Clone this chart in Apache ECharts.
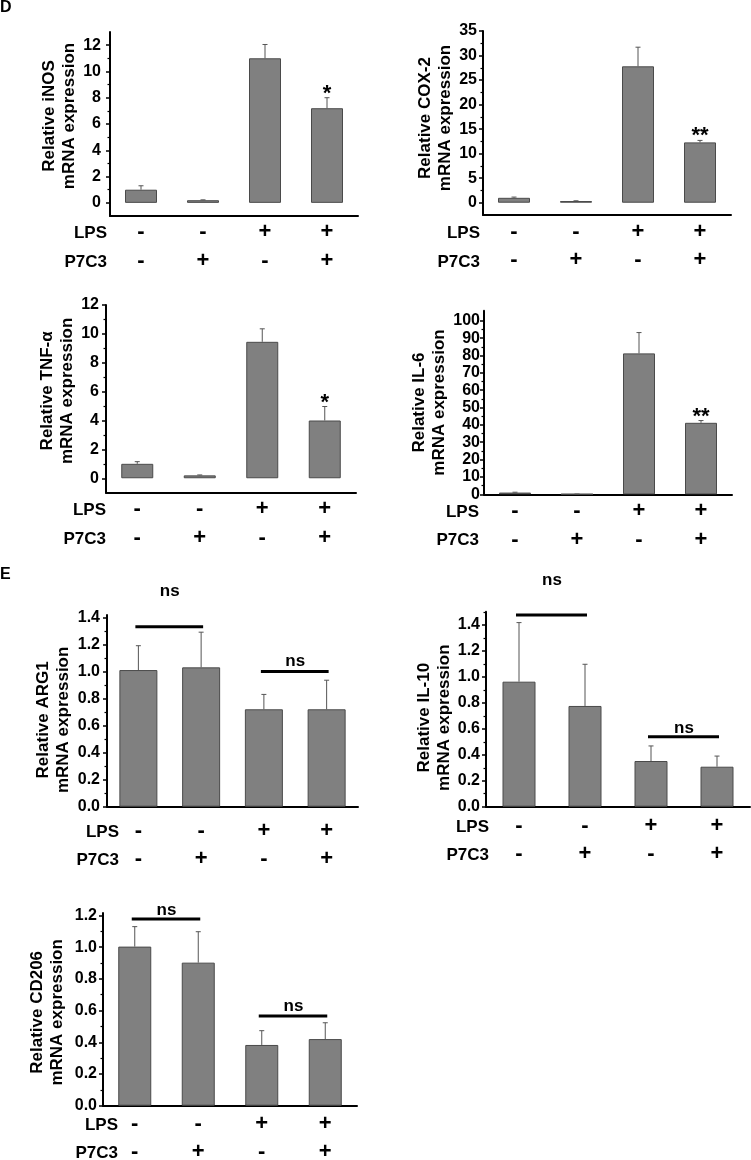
<!DOCTYPE html>
<html><head><meta charset="utf-8">
<script src="https://cdn.jsdelivr.net/npm/echarts@6/dist/echarts.min.js"></script>
<style>html,body{margin:0;padding:0;background:#fff}#c{width:751px;height:1160px}</style>
</head><body><div id="c"></div>
<script>
// ---------- data ----------
const groups = ['Control', 'P7C3', 'LPS', 'LPS+P7C3'];
const lpsSigns = ['-', '-', '+', '+'];
const p7c3Signs = ['-', '+', '-', '+'];

const inosMean = [1.0, 0.2, 11.0, 7.2];
const inosErr = [0.3, 0.03, 1.05, 0.8];
const inosSig = ['', '', '', '*'];

const cox2Mean = [1.0, 0.35, 27.8, 12.3];
const cox2Err = [0.15, 0.05, 3.9, 0.4];
const cox2Sig = ['', '', '', '**'];

const tnfMean = [1.0, 0.2, 9.45, 4.0];
const tnfErr = [0.15, 0.03, 0.9, 0.97];
const tnfSig = ['', '', '', '*'];

const il6Mean = [1.0, 0.1, 81.2, 41.2];
const il6Err = [0.2, 0.05, 12.0, 1.3];
const il6Sig = ['', '', '', '**'];

const arg1Mean = [1.01, 1.03, 0.72, 0.72];
const arg1Err = [0.18, 0.26, 0.11, 0.215];
const arg1Ns = [[0, 1, 1.33, 'ns'], [2, 3, 1.0, 'ns']];

const il10Mean = [0.963, 0.776, 0.352, 0.308];
const il10Err = [0.455, 0.321, 0.116, 0.082];
const il10Ns = [[0, 1, 1.477, 'ns'], [2, 3, 0.539, 'ns']];

const cd206Mean = [1.003, 0.902, 0.383, 0.42];
const cd206Err = [0.126, 0.195, 0.09, 0.103];
const cd206Ns = [[0, 1, 1.177, 'ns'], [2, 3, 0.566, 'ns']];

const inosTicks = [0, 2, 4, 6, 8, 10, 12];
const inosMinor = [1, 3, 5, 7, 9, 11];
const cox2Ticks = [0, 5, 10, 15, 20, 25, 30, 35];
const cox2Minor = [2.5, 7.5, 12.5, 17.5, 22.5, 27.5, 32.5];
const tnfTicks = [0, 2, 4, 6, 8, 10, 12];
const tnfMinor = [1, 3, 5, 7, 9, 11];
const il6Ticks = [0, 10, 20, 30, 40, 50, 60, 70, 80, 90, 100];
const il6Minor = [5, 15, 25, 35, 45, 55, 65, 75, 85, 95];
const arg1Ticks = [0, 0.2, 0.4, 0.6, 0.8, 1.0, 1.2, 1.4];
const arg1Minor = [0.1, 0.3, 0.5, 0.7, 0.9, 1.1, 1.3];
const il10Ticks = [0, 0.2, 0.4, 0.6, 0.8, 1.0, 1.2, 1.4];
const il10Minor = [0.1, 0.3, 0.5, 0.7, 0.9, 1.1, 1.3, 1.5];
const cd206Ticks = [0, 0.2, 0.4, 0.6, 0.8, 1.0, 1.2];
const cd206Minor = [0.1, 0.3, 0.5, 0.7, 0.9, 1.1];

// ---------- panels (layout / style) ----------
const FONT = '"Liberation Sans", Arial, sans-serif';
const panels = [
  {name: 'Relative iNOS\nmRNA expression', mean: inosMean, err: inosErr, sig: inosSig, ticks: inosTicks, minor: inosMinor, dec: 0,
   left: 110, top: 32, width: 248, height: 184, min: -1, max: 13, nameGap: 27, nameShift: -8, yMargin: 9, xMargin: 2, barWidth: 32,
   rowX: 107, rowY: [233, 262]},
  {name: 'Relative COX-2\nmRNA expression', mean: cox2Mean, err: cox2Err, sig: cox2Sig, ticks: cox2Ticks, minor: cox2Minor, dec: 0,
   left: 483, top: 31, width: 248, height: 184, min: -2.5, max: 35, nameGap: 20, nameShift: -5, yMargin: 6, xMargin: 2.5, barWidth: 32,
   rowX: 480, rowY: [233, 262]},
  {name: 'Relative TNF-α\nmRNA expression', mean: tnfMean, err: tnfErr, sig: tnfSig, ticks: tnfTicks, minor: tnfMinor, dec: 0,
   left: 106, top: 305, width: 250, height: 187.7, min: -1, max: 12, nameGap: 23, nameShift: -8, yMargin: 7, xMargin: 2, barWidth: 32,
   rowX: 106, rowY: [510, 539]},
  {name: 'Relative IL-6\nmRNA expression', mean: il6Mean, err: il6Err, sig: il6Sig, ticks: il6Ticks, minor: il6Minor, dec: 0,
   left: 484, top: 310.7, width: 248, height: 183.6, min: 0, max: 105.8, nameGap: 31, nameShift: 0, yMargin: 4, xMargin: 2.5, barWidth: 32,
   rowX: 479, rowY: [512, 540]},
  {name: 'Relative ARG1\nmRNA expression', mean: arg1Mean, err: arg1Err, ns: arg1Ns, nsLift: [35, 10], ticks: arg1Ticks, minor: arg1Minor, dec: 1,
   left: 107, top: 615, width: 251, height: 191.7, min: 0, max: 1.417, nameGap: 34, nameShift: 9, yMargin: 7, xMargin: 9.5, barWidth: 38,
   rowX: 119, rowY: [832, 860]},
  {name: 'Relative IL-10\nmRNA expression', mean: il10Mean, err: il10Err, ns: il10Ns, nsLift: [35, 8.5], ticks: il10Ticks, minor: il10Minor, dec: 1,
   left: 486, top: 611.7, width: 264, height: 195, min: 0, max: 1.502, nameGap: 32, nameShift: 8.5, yMargin: 6, xMargin: 4.5, barWidth: 33,
   rowX: 489, rowY: [827, 855]},
  {name: 'Relative CD206\nmRNA expression', mean: cd206Mean, err: cd206Err, ns: cd206Ns, nsLift: [9, 9.5], ticks: cd206Ticks, minor: cd206Minor, dec: 1,
   left: 103, top: 913, width: 254, height: 192.7, min: 0, max: 1.215, nameGap: 36, nameShift: 3, yMargin: 6, xMargin: 3.5, barWidth: 33,
   rowX: 118, rowY: [1125, 1153]}
];

const grids = [], xAxes = [], yAxes = [], series = [], graphics = [];

function errRenderer(sig) {
  return function (params, api) {
    const k = api.value(0), m = api.value(1), e = api.value(2);
    const b = api.coord([k, m]);
    const t = api.coord([k, m + e]);
    const children = [
      {type: 'line', shape: {x1: b[0], y1: b[1], x2: t[0], y2: t[1]}, style: {stroke: '#555', lineWidth: 1}},
      {type: 'line', shape: {x1: t[0] - 2.5, y1: t[1], x2: t[0] + 2.5, y2: t[1]}, style: {stroke: '#555', lineWidth: 1}}
    ];
    if (sig && sig[k]) {
      children.push({type: 'text', x: t[0], y: t[1] + 7,
        style: {text: sig[k], fill: '#000', font: 'bold 22px ' + FONT, align: 'center', verticalAlign: 'bottom'}});
    }
    return {type: 'group', children};
  };
}
function nsRenderer(lift) {
  return function (params, api) {
    const a = api.value(0), bIdx = api.value(1), y = api.value(2);
    const p1 = api.coord([a, y]), p2 = api.coord([bIdx, y]);
    const cx = (p1[0] + p2[0]) / 2;
    return {type: 'group', children: [
      {type: 'line', shape: {x1: p1[0] - 3, y1: p1[1], x2: p2[0] + 2, y2: p2[1]}, style: {stroke: '#000', lineWidth: 3}},
      {type: 'text', x: cx, y: p1[1] - lift[params.dataIndex],
        style: {text: api.value(3), fill: '#000', font: 'bold 17px ' + FONT, align: 'center', verticalAlign: 'middle'}}
    ]};
  };
}

panels.forEach((p, i) => {
  grids.push({left: p.left, top: p.top, width: p.width, height: p.height, containLabel: false, outerBoundsMode: 'none'});
  const fmtY = v => (p.dec ? Number(v).toFixed(p.dec) : String(Math.round(v)));
  const s = p.nameShift;
  const namePad = s < 0 ? [0, 0, 0, -2 * s] : [0, 2 * s, 0, 0];
  xAxes.push({
    gridIndex: i, type: 'category', data: groups, position: 'bottom',
    axisLine: {onZero: false, lineStyle: {color: '#000', width: 2}},
    axisTick: {alignWithLabel: true, length: 4, lineStyle: {color: '#000', width: 1.5}},
    axisLabel: {margin: p.xMargin, interval: 0,
      formatter: (v, idx) => '{s|' + lpsSigns[idx] + '}\n{s|' + p7c3Signs[idx] + '}',
      rich: {s: {fontSize: 22, fontWeight: 'bold', fontFamily: FONT, color: '#000', lineHeight: 28.5, align: 'center'}}},
    splitLine: {show: false}
  });
  xAxes.push({
    gridIndex: i, type: 'category', data: groups, position: 'bottom',
    axisLine: {show: false, onZero: false},
    axisTick: {alignWithLabel: false, length: 3, lineStyle: {color: '#000', width: 1.5}},
    axisLabel: {show: false}, splitLine: {show: false}
  });
  yAxes.push({
    gridIndex: i, type: 'value', position: 'left', min: p.min, max: p.max,
    axisLine: {show: true, onZero: false, lineStyle: {color: '#000', width: 2}},
    axisTick: {show: true, length: 4, customValues: p.ticks, lineStyle: {color: '#000', width: 1.5}},
    axisLabel: {customValues: p.ticks, margin: p.yMargin, fontSize: 16, fontWeight: 'bold', fontFamily: FONT, color: '#000', formatter: fmtY},
    splitLine: {show: false},
    name: p.name, nameLocation: 'middle', nameGap: p.nameGap,
    nameTextStyle: {fontSize: 17, fontWeight: 'bold', fontFamily: FONT, color: '#000', lineHeight: 20, padding: namePad}
  });
  yAxes.push({
    gridIndex: i, type: 'value', position: 'left', min: p.min, max: p.max,
    axisLine: {show: false, onZero: false},
    axisTick: {show: true, length: 2.5, customValues: p.minor, lineStyle: {color: '#000', width: 1.2}},
    axisLabel: {show: false}, splitLine: {show: false}
  });
  series.push({
    type: 'bar', xAxisIndex: 2 * i, yAxisIndex: 2 * i, data: p.mean, barWidth: p.barWidth,
    itemStyle: {color: '#808080', borderColor: '#4a4a4a', borderWidth: 1}, silent: true
  });
  series.push({
    type: 'custom', xAxisIndex: 2 * i, yAxisIndex: 2 * i, z: 5,
    data: p.mean.map((m, k) => [k, m, p.err[k]]), encode: {x: 0, y: 1},
    renderItem: errRenderer(p.sig), silent: true
  });
  if (p.ns) {
    series.push({
      type: 'custom', xAxisIndex: 2 * i, yAxisIndex: 2 * i, z: 6,
      data: p.ns, encode: {x: 0, y: 2}, renderItem: nsRenderer(p.nsLift), silent: true
    });
  }
  ['LPS', 'P7C3'].forEach((t, r) => graphics.push({
    type: 'text', x: p.rowX, y: p.rowY[r],
    style: {text: t, fill: '#000', font: 'bold 17px ' + FONT, align: 'right', verticalAlign: 'middle'}
  }));
});

graphics.push({type: 'text', x: 0, y: 8, style: {text: 'D', fill: '#000', font: 'bold 16px ' + FONT, align: 'left', verticalAlign: 'middle'}});
graphics.push({type: 'text', x: 0, y: 575, style: {text: 'E', fill: '#000', font: 'bold 16px ' + FONT, align: 'left', verticalAlign: 'middle'}});

const chart = echarts.init(document.getElementById('c'), null, {renderer: 'canvas', width: 751, height: 1160});
chart.setOption({
  backgroundColor: '#fff',
  animation: false,
  grid: grids, xAxis: xAxes, yAxis: yAxes, series: series, graphic: graphics
});
</script>
</body></html>
